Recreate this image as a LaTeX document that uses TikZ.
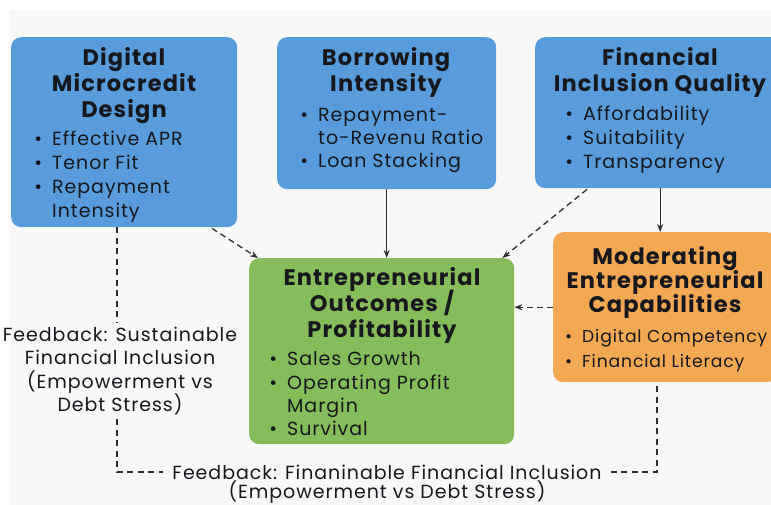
\documentclass[tikz,border=0pt]{standalone}
\usepackage{fontspec}
\setmainfont{Poppins}[LetterSpace=5]
\usetikzlibrary{arrows.meta,calc}

\definecolor{boxblue}{RGB}{88,156,220}
\definecolor{boxgreen}{RGB}{134,188,90}
\definecolor{boxorange}{RGB}{243,168,84}
\definecolor{ink}{RGB}{22,24,30}
\definecolor{wire}{RGB}{45,45,45}
\definecolor{paper}{RGB}{248,248,248}

\begin{document}
\begin{tikzpicture}[x=1pt,y=-1pt,
  panel/.style={rounded corners=10pt, draw=none, anchor=north west, inner sep=0pt},
  head/.style={font=\fontsize{22.5}{26}\selectfont\bfseries, text=ink, anchor=mid, inner sep=0pt, yshift=-5pt},
  item/.style={font=\fontsize{19}{22}\selectfont, text=ink, anchor=mid west, inner sep=0pt, yshift=-5pt},
  smallitem/.style={item, font=\fontsize{17.2}{22}\selectfont},
  note/.style={font=\fontsize{19}{23.3}\selectfont, text=ink, align=center, inner xsep=9pt, inner ysep=4pt},
  flow/.style={draw=wire, line width=1.3pt, -{Stealth[length=8pt,width=6pt]}},
  flowdash/.style={flow, dash pattern=on 6pt off 4pt},
  fb/.style={draw=wire, line width=1.1pt, dash pattern=on 6pt off 4.5pt}
]
% canvas
\useasboundingbox (0,0) rectangle (771,505);
\clip (0,0) rectangle (771,505);
\fill[white] (0,0) rectangle (771,505);
\fill[paper] (10,10) rectangle (771,505);

\newcommand{\bul}{\llap{•\hspace{10pt}}}

% ---- Digital Microcredit Design
\node[panel, fill=boxblue, minimum width=226pt, minimum height=190pt] (dmd) at (11,37) {};
\node[head] (dmd-h1) at (124,58) {Digital};
\node[head] (dmd-h2) at (124,84) {Microcredit};
\node[head] (dmd-h3) at (124,110) {Design};
\node[item] (dmd-i1) at (52,138) {\bul Effective APR};
\node[item] (dmd-i2) at (52,162) {\bul Tenor Fit};
\node[item] (dmd-i3) at (52,186) {\bul Repayment};
\node[item] (dmd-i4) at (52,210) {Intensity};

% ---- Borrowing Intensity
\node[panel, fill=boxblue, minimum width=219pt, minimum height=152pt] (bi) at (277,37) {};
\node[head] (bi-h1) at (386,58) {Borrowing};
\node[head] (bi-h2) at (386,84) {Intensity};
\node[item] (bi-i1) at (318,114) {\bul Repayment-};
\node[item] (bi-i2) at (318,137) {to-Revenu Ratio};
\node[item] (bi-i3) at (318,160) {\bul Loan Stacking};

% ---- Financial Inclusion Quality
\node[panel, fill=boxblue, minimum width=250pt, minimum height=151pt] (fiq) at (535,37) {};
\node[head] (fiq-h1) at (660,58) {Financial};
\node[head] (fiq-h2) at (660,84) {Inclusion Quality};
\node[item] (fiq-i1) at (583,113) {\bul Affordability};
\node[item] (fiq-i2) at (583,137) {\bul Suitability};
\node[item] (fiq-i3) at (583,161) {\bul Transparency};

% ---- Moderating Entrepreneurial Capabilities
\node[panel, fill=boxorange, minimum width=224pt, minimum height=150pt] (mec) at (553,232) {};
\node[head] (mec-h1) at (665,257) {Moderating};
\node[head] (mec-h2) at (665,281) {Entrepreneurial};
\node[head] (mec-h3) at (665,305) {Capabilities};
\node[smallitem] (mec-i1) at (582,335) {\bul Digital Competency};
\node[smallitem] (mec-i2) at (582,360) {\bul Financial Literacy};

% ---- Entrepreneurial Outcomes / Profitability
\node[panel, fill=boxgreen, minimum width=265pt, minimum height=186pt] (eop) at (249,258) {};
\node[head] (eop-h1) at (382,278) {Entrepreneurial};
\node[head] (eop-h2) at (382,304) {Outcomes /};
\node[head] (eop-h3) at (382,330) {Profitability};
\node[item] (eop-i1) at (287,358) {\bul Sales Growth};
\node[item] (eop-i2) at (287,382) {\bul Operating Profit};
\node[item] (eop-i3) at (287,405) {Margin};
\node[item] (eop-i4) at (287,428) {\bul Survival};

% ---- feedback labels
\coordinate (fbrow) at (387,472);
\node[note] (fbl) at (120,371) {Feedback: Sustainable\\Financial Inclusion\\(Empowerment vs\\Debt Stress)};
\node[note, anchor=mid, yshift=-5pt] (fbb) at (fbrow) {Feedback: Finaninable Financial Inclusion};
\node[note, anchor=mid, yshift=-5pt] (fbb2) at (387,491) {(Empowerment vs Debt Stress)};

% ---- causal links
\draw[flowdash] ($(dmd.south west)+(201,1)$) -- ($(eop.north west)+(9,0)$);
\draw[flow] (bi.south) -- (bi.south |- eop.north);
\draw[flowdash] ($(fiq.south west)+(52,1)$) -- ($(eop.north east)+(-12,0)$);
\draw[flow] (fiq.south) -- (fiq.south |- mec.north);
\draw[flowdash] (mec.west) -- (mec.west -| eop.east);

% ---- feedback loop
\coordinate (fbtop) at ($(dmd.south west)+(106,0)$);
\coordinate (fbend) at ($(mec.south west)+(104,0)$);
\draw[fb] (fbtop) -- (fbtop |- fbl.north);
\draw[fb] (fbtop |- fbl.south) -- (fbtop |- fbrow) -- (fbb.west |- fbrow);
\draw[fb] (fbb.east |- fbrow) -- (fbend |- fbrow) -- (fbend);
\end{tikzpicture}
\end{document}
